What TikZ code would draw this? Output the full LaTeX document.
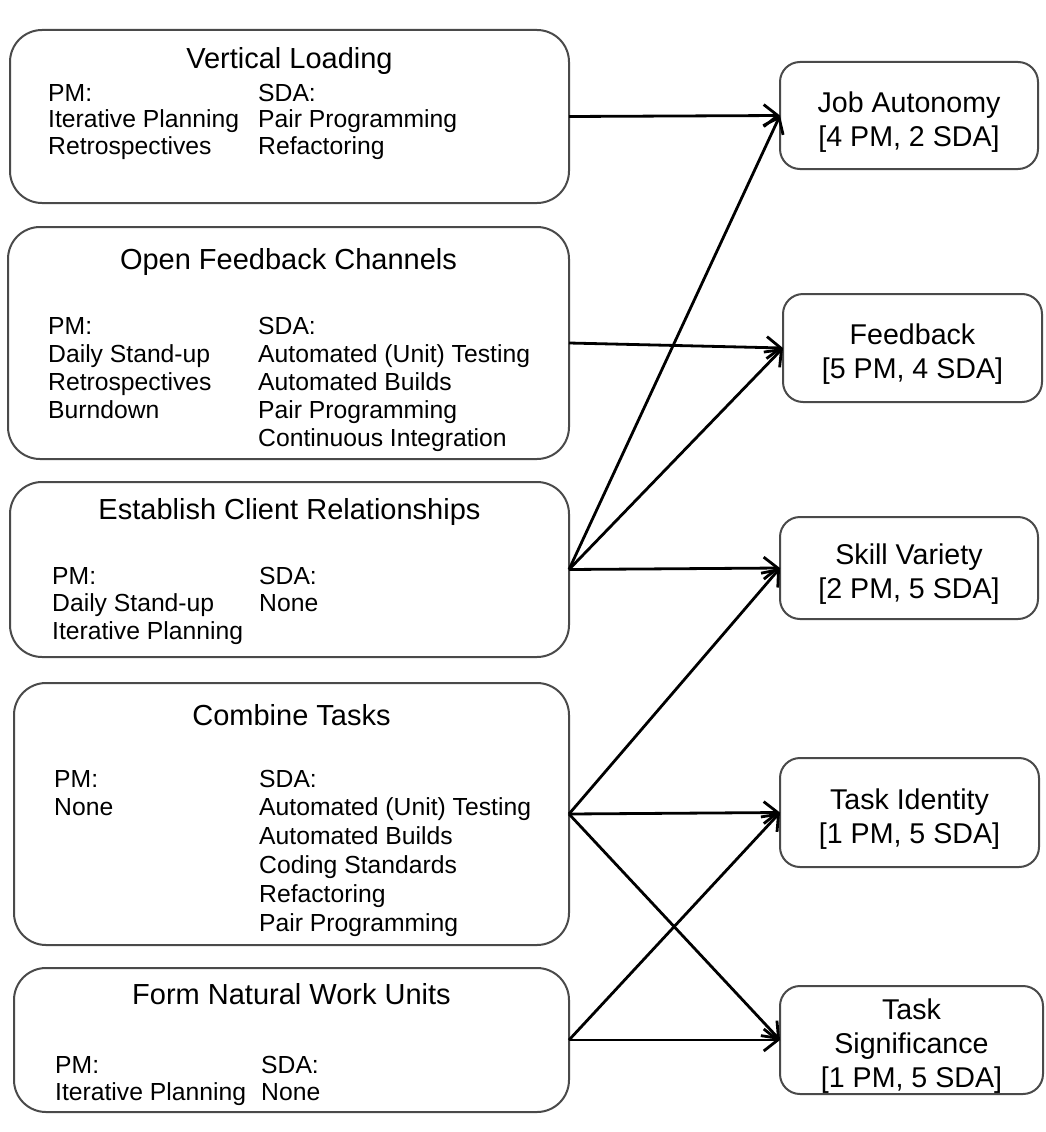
\documentclass[tikz,border=0pt]{standalone}
\usepackage{fontspec}
\setmainfont{Liberation Sans}
\usetikzlibrary{arrows.meta}
\definecolor{boxgray}{HTML}{4A4A4A}
\newcommand{\colstack}[1]{\begin{tabular}[t]{@{}l@{}}#1\end{tabular}}
\newcommand{\censtack}[1]{\begin{tabular}[t]{@{}c@{}}#1\end{tabular}}
\tikzset{
  lbox/.style={draw=boxgray, line width=2pt, rounded corners=32pt, outer sep=0pt, inner sep=0pt},
  rbox/.style={draw=boxgray, line width=2pt, rounded corners=20pt, outer sep=0pt, inner sep=0pt},
  ttl/.style={anchor=base, inner sep=0pt, font=\fontsize{29}{34}\selectfont},
  col/.style={anchor=base west, inner sep=0pt, font=\fontsize{24.7}{#1}\selectfont},
  rtxt/.style={anchor=base, inner sep=0pt, font=\fontsize{28.6}{34}\selectfont},
  conn/.style={line width=2.8pt, -{Straight Barb[length=14pt,width=22pt]}},
}
\begin{document}
\begin{tikzpicture}[x=1pt, y=-1pt]
\fill[white] (0,0) rectangle (1045,1132);
\useasboundingbox (0,0) rectangle (1045,1132);

% ---------- left boxes ----------
\node[lbox, minimum width=559pt, minimum height=173pt] (vl) at (289.5,116.5) {};
\node[ttl] (vlt) at (289.5,68) {Vertical Loading};
\node[col=26.5] (vlpm) at (48,101) {\colstack{PM:\\Iterative Planning\\Retrospectives}};
\node[col=26.5] (vlsda) at (258,101) {\colstack{SDA:\\Pair Programming\\Refactoring}};

\node[lbox, minimum width=561pt, minimum height=232pt] (ofc) at (288.5,343) {};
\node[ttl] (ofct) at (288.5,269) {Open Feedback Channels};
\node[col=28] (ofcpm) at (48,334) {\colstack{PM:\\Daily Stand-up\\Retrospectives\\Burndown}};
\node[col=28] (ofcsda) at (258,334) {\colstack{SDA:\\Automated (Unit) Testing\\Automated Builds\\Pair Programming\\Continuous Integration}};

\node[lbox, minimum width=559pt, minimum height=175pt] (ecr) at (289.5,569.5) {};
\node[ttl] (ecrt) at (289.5,519) {Establish Client Relationships};
\node[col=27.5] (ecrpm) at (52,584) {\colstack{PM:\\Daily Stand-up\\Iterative Planning}};
\node[col=27.5] (ecrsda) at (259,584) {\colstack{SDA:\\None}};

\node[lbox, minimum width=555pt, minimum height=262pt] (ct) at (291.5,814) {};
\node[ttl] (ctt) at (291.5,725) {Combine Tasks};
\node[col=28.8] (ctpm) at (54,787) {\colstack{PM:\\None}};
\node[col=28.8] (ctsda) at (259,787) {\colstack{SDA:\\Automated (Unit) Testing\\Automated Builds\\Coding Standards\\Refactoring\\Pair Programming}};

\node[lbox, minimum width=555pt, minimum height=144pt] (fnwu) at (291.5,1040) {};
\node[ttl] (fnwut) at (291.5,1004) {Form Natural Work Units};
\node[col=27] (fnwupm) at (55,1073) {\colstack{PM:\\Iterative Planning}};
\node[col=27] (fnwusda) at (261,1073) {\colstack{SDA:\\None}};

% ---------- right boxes ----------
\node[rbox, minimum width=258pt, minimum height=107pt] (ja) at (909,115.5) {};
\node[rtxt] (jat) at (909,112) {\censtack{Job Autonomy\\{[4 PM, 2 SDA]}}};

\node[rbox, minimum width=259pt, minimum height=108pt] (fb) at (912.5,348) {};
\node[rtxt] (fbt) at (912.5,344) {\censtack{Feedback\\{[5 PM, 4 SDA]}}};

\node[rbox, minimum width=258pt, minimum height=102pt] (sv) at (909,568) {};
\node[rtxt] (svt) at (909,564) {\censtack{Skill Variety\\{[2 PM, 5 SDA]}}};

\node[rbox, minimum width=259pt, minimum height=109pt] (ti) at (909.5,812.5) {};
\node[rtxt] (tit) at (909.5,809) {\censtack{Task Identity\\{[1 PM, 5 SDA]}}};

\node[rbox, minimum width=263pt, minimum height=108pt] (ts) at (911.5,1040) {};
\node[rtxt] (tst) at (911.5,1019) {\censtack{Task\\Significance\\{[1 PM, 5 SDA]}}};

% ---------- connectors ----------
\draw[conn] (vl.east) -- (ja.west);
\draw[conn] (ofc.east) -- (fb.west);
\draw[conn] (ecr.east) -- (ja.west);
\draw[conn] (ecr.east) -- (fb.west);
\draw[conn] (ecr.east) -- (sv.west);
\draw[conn] (ct.east) -- (sv.west);
\draw[conn] (ct.east) -- (ti.west);
\draw[conn] (ct.east) -- (ts.west);
\draw[conn] (fnwu.east) -- (ti.west);
\draw[conn] (fnwu.east) -- (ts.west);
\end{tikzpicture}
\end{document}
